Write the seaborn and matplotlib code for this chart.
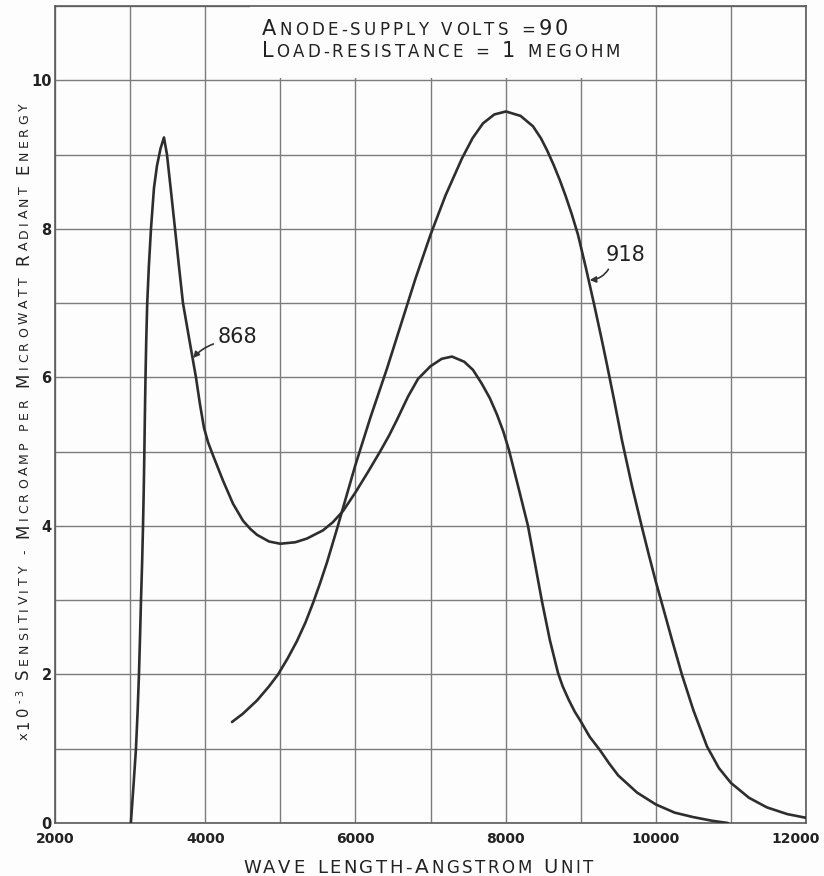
import numpy as np
import pandas as pd
import matplotlib
matplotlib.use('Agg')
import matplotlib.pyplot as plt
import seaborn as sns
from matplotlib.font_manager import FontProperties
from matplotlib.transforms import IdentityTransform, ScaledTranslation
from matplotlib.patches import Rectangle

# curve readings (wave length in angstrom, sensitivity x10^-3 microamp/microwatt)
wave_868 = [3010, 3045, 3078, 3100, 3118, 3132, 3145, 3160, 3172, 3182, 3190, 3197,
            3205, 3215, 3228, 3250, 3278, 3318, 3358, 3405, 3451, 3491, 3545, 3598,
            3650, 3704, 3790, 3877, 3930, 3984, 4040, 4104, 4237, 4370, 4503, 4600,
            4690, 4850, 5000, 5200, 5355, 5568, 5700, 5835, 6000, 6170, 6328, 6450,
            6554, 6700, 6834, 7000, 7150, 7286, 7450, 7566, 7680, 7790, 7885, 7970,
            8045, 8170, 8298, 8390, 8485, 8590, 8698, 8760, 8840, 8920, 9000, 9120,
            9257, 9380, 9500, 9750, 10000, 10250, 10495, 10750, 10960]
sens_868 = [0.0, 0.5, 1.0, 1.5, 2.0, 2.5, 3.0, 3.5, 4.0, 4.5, 5.0, 5.5,
            6.0, 6.5, 7.0, 7.5, 8.0, 8.55, 8.85, 9.08, 9.23, 9.0, 8.5, 8.0,
            7.5, 7.0, 6.5, 6.0, 5.64, 5.32, 5.12, 4.95, 4.61, 4.3, 4.07, 3.96,
            3.88, 3.79, 3.76, 3.78, 3.83, 3.94, 4.05, 4.2, 4.45, 4.73, 5.0, 5.22,
            5.43, 5.74, 5.98, 6.15, 6.25, 6.28, 6.21, 6.1, 5.92, 5.72, 5.5, 5.27,
            5.02, 4.52, 4.0, 3.5, 2.98, 2.46, 2.02, 1.84, 1.66, 1.5, 1.37, 1.16,
            0.98, 0.8, 0.64, 0.41, 0.25, 0.14, 0.08, 0.03, 0.0]

wave_918 = [4357, 4500, 4690, 4850, 4970, 5100, 5222, 5335, 5435, 5530, 5622, 5755,
            5880, 6000, 6200, 6421, 6634, 6800, 7000, 7200, 7420, 7560, 7699, 7850,
            8005, 8200, 8365, 8470, 8551, 8640, 8724, 8800, 8880, 8964, 9070, 9177,
            9284, 9350, 9450, 9550, 9680, 9816, 9910, 10000, 10083, 10220, 10350,
            10500, 10682, 10840, 11000, 11240, 11480, 11750, 12000]
sens_918 = [1.36, 1.47, 1.65, 1.84, 2.0, 2.22, 2.45, 2.7, 2.96, 3.23, 3.51, 3.96,
            4.4, 4.82, 5.46, 6.12, 6.8, 7.33, 7.92, 8.45, 8.95, 9.22, 9.42, 9.54,
            9.58, 9.52, 9.38, 9.22, 9.06, 8.86, 8.65, 8.44, 8.2, 7.92, 7.47, 6.99,
            6.49, 6.17, 5.67, 5.15, 4.55, 3.98, 3.6, 3.25, 2.95, 2.45, 1.99,
            1.52, 1.03, 0.74, 0.54, 0.34, 0.21, 0.12, 0.07]

x_ticks = list(range(2000, 12001, 1000))
y_ticks = list(range(0, 12))
x_labels = [str(t) if t % 2000 == 0 else '' for t in x_ticks]
y_labels = [str(t) if t % 2 == 0 else '' for t in y_ticks]

FONT = 'DejaVu Sans'
W, H, DPI = 824, 876, 100

sns.set_style('white')
plt.rcParams['font.family'] = [FONT]

df = pd.concat([
    pd.DataFrame({'wave': wave_868, 'sens': sens_868, 'tube': '868'}),
    pd.DataFrame({'wave': wave_918, 'sens': sens_918, 'tube': '918'}),
])

fig = plt.figure(figsize=(W / DPI, H / DPI), dpi=DPI, facecolor='#fdfdfd')
ax = fig.add_axes([55 / W, 1 - 823 / H, (806 - 55) / W, (823 - 6) / H])
ax.set_facecolor('#fdfdfd')

sns.lineplot(data=df, x='wave', y='sens', hue='tube', units='tube', estimator=None,
             palette={'868': '#2e2e2e', '918': '#2e2e2e'}, linewidth=1.9,
             legend=False, ax=ax, zorder=3)

ax.set_xlim(2000, 12000)
ax.set_ylim(0, 11)
ax.set_xticks(x_ticks)
ax.set_xticklabels(x_labels, fontsize=10, fontweight='bold', color='#222222')
ax.set_yticks(y_ticks)
ax.set_yticklabels(y_labels, fontsize=10.5, fontweight='bold', color='#222222')
ax.tick_params(axis='x', length=0, pad=6.5)
ax.tick_params(axis='y', length=0, pad=2.5)
ax.set_xlabel('')
ax.set_ylabel('')
ax.set_axisbelow(True)
ax.grid(True, color='#7c7c7c', linewidth=1.0)
for sp in ax.spines.values():
    sp.set_visible(True)
    sp.set_color('#5a5a5a')
    sp.set_linewidth(1.2)

# last tick label is pulled in a little, like the drawing
last = ax.get_xticklabels()[-1]
last.set_transform(last.get_transform() + ScaledTranslation(-0.1, 0, fig.dpi_scale_trans))

# white block behind the heading
ax.add_patch(Rectangle((4600, 10.03), 9985 - 4600, 0.97, facecolor='#fdfdfd',
                       edgecolor='none', zorder=1))

arrow = dict(arrowstyle='-|>', color='#333333', lw=1.2, mutation_scale=9,
             shrinkA=1, shrinkB=0)
ax.annotate('868', xy=(3838, 6.26), xytext=(4170, 6.55), fontsize=15,
            ha='left', va='center', color='#222222',
            arrowprops=dict(arrow, relpos=(0.0, 0.2), connectionstyle='arc3,rad=0.15'))
ax.annotate('918', xy=(9120, 7.31), xytext=(9337, 7.65), fontsize=15,
            ha='left', va='center', color='#222222',
            arrowprops=dict(arrow, relpos=(0.12, 0.0), connectionstyle='arc3,rad=-0.3'))


def lettering(pieces, start, end, base, vertical=False):
    # hand-lettered style text: each glyph placed on its own, spread from start to end (pixels)
    renderer = fig.canvas.get_renderer()
    glyphs = []
    for txt, size, rise in pieces:
        fp = FontProperties(family=FONT, size=size)
        for ch in txt:
            if ch == ' ':
                w = size * 0.4 * DPI / 72
            else:
                w = renderer.get_text_width_height_descent(ch, fp, ismath=False)[0]
            glyphs.append((ch, size, rise, w))
    gap = (end - start - sum(g[3] for g in glyphs)) / (len(glyphs) - 1)
    pos = start
    for ch, size, rise, w in glyphs:
        if ch != ' ':
            if vertical:
                fig.text(base - rise, pos, ch, fontsize=size, color='#222222',
                         rotation=90, rotation_mode='anchor', ha='left', va='baseline',
                         transform=IdentityTransform())
            else:
                fig.text(pos, base + rise, ch, fontsize=size, color='#222222',
                         ha='left', va='baseline', transform=IdentityTransform())
        pos += w + gap


big, small = 15, 12
lettering([('A', big, 0), ('NODE-SUPPLY VOLTS =', small, 0), ('90', big, 0)],
          262, 568, H - 35)
lettering([('L', big, 0), ('OAD-RESISTANCE = ', small, 0), ('1', big, 0), (' MEGOHM', small, 0)],
          262, 620, H - 57)
lettering([('WAVE LENGTH-', 13, 0), ('A', 14.5, 0), ('NGSTROM ', 12, 0), ('U', 14, 0), ('NIT', 12, 0)],
          243, 593, H - 873)
lettering([('x', 9.5, 0), ('10', 10.5, 0), ('-3', 7, 5), (' ', 8.5, 0),
           ('S', 12, 0), ('ENSITIVITY - ', 9, 0), ('M', 12, 0), ('ICROAMP PER ', 9, 0),
           ('M', 12, 0), ('ICROWATT ', 9, 0), ('R', 12, 0), ('ADIANT ', 9, 0),
           ('E', 12, 0), ('NERGY', 9, 0)],
          H - 740, H - 103, 28, vertical=True)

fig.savefig('out.png', dpi=DPI, facecolor=fig.get_facecolor())
